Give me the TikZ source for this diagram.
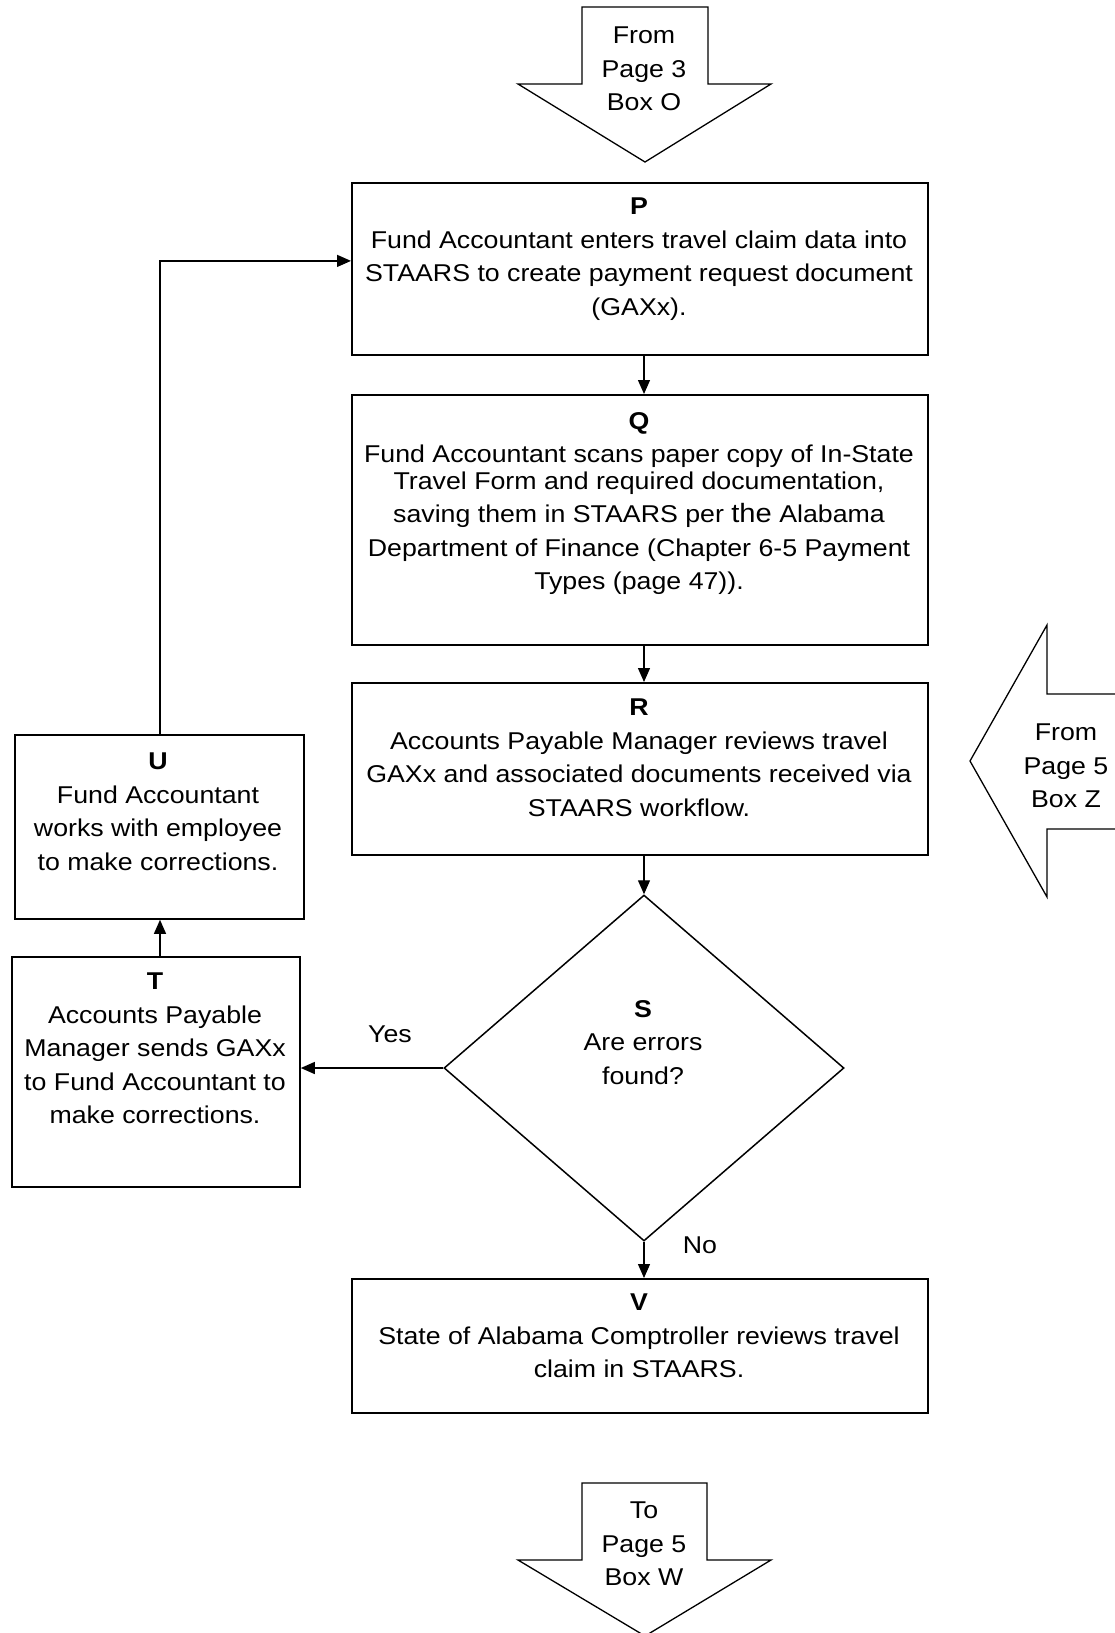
\documentclass[tikz,border=0pt]{standalone}
\usepackage{fontspec}
\setmainfont{Liberation Sans}[FakeStretch=1.1]
\usetikzlibrary{arrows.meta,shapes.geometric}
\begin{document}
\begin{tikzpicture}[x=1pt,y=-1pt,
  box/.style={draw,line width=1.8pt,anchor=north west,inner sep=0pt},
  txt/.style={align=center,inner sep=0pt,font=\fontsize{24.3}{33.5}\selectfont},
  arr/.style={line width=1.3pt,-{Triangle[length=14pt,width=12pt]}},
  line/.style={line width=1.3pt},
  blk/.style={draw,line width=1.3pt,line join=miter}]
\useasboundingbox (0,0) rectangle (1114,1633);
% x-coordinates of the main column and the left column
\coordinate (mx) at (644,0);
\coordinate (cx) at (160,0);

% top off-page arrow
\draw[blk] (582,7) -- (708,7) -- (708,84) -- (771,84) -- (645,162) -- (518,84) -- (582,84) -- cycle;
\node[txt] (topt) at (644,69) {From\\Page 3\\Box O};

% bottom off-page arrow
\draw[blk] (582,1483) -- (707,1483) -- (707,1560) -- (771,1560) -- (645,1636) -- (518,1560) -- (582,1560) -- cycle;
\node[txt] (bott) at (644,1544) {To\\Page 5\\Box W};

% right off-page arrow
\draw[blk] (1116,694) -- (1047,694) -- (1047,625) -- (970,761) -- (1047,897) -- (1047,829) -- (1116,829);
\node[txt] (rgtt) at (1066,766) {From\\Page 5\\Box Z};

% boxes
\node[box,minimum width=576pt,minimum height=172pt] (P) at (351,182) {};
\node[box,minimum width=576pt,minimum height=250pt] (Q) at (351,394) {};
\node[box,minimum width=576pt,minimum height=172pt] (R) at (351,682) {};
\node[box,minimum width=576pt,minimum height=134pt] (V) at (351,1278) {};
\node[box,minimum width=289pt,minimum height=184pt] (U) at (14,734) {};
\node[box,minimum width=288pt,minimum height=230pt] (T) at (11,956) {};
\node[draw,diamond,line width=1.5pt,inner sep=0pt,minimum width=400pt,minimum height=346pt] (S) at (644,1068) {};

% texts
\node[txt,anchor=north] (Pt) at (639,198) {\textbf{P}\\Fund Accountant enters travel claim data into\\STAARS to create payment request document\\(GAXx).};
\node[txt,anchor=north] (Qt) at (639,412) {\textbf{Q}\\Fund Accountant scans paper copy of In-State\\[-7pt]Travel Form and required documentation,\\saving them in STAARS per {\fontsize{26.5}{33.5}\selectfont the} Alabama\\Department of Finance (Chapter 6-5 Payment\\Types (page 47)).};
\node[txt,anchor=north] (Rt) at (639,699) {\textbf{R}\\Accounts Payable Manager reviews travel\\GAXx and associated documents received via\\STAARS workflow.};
\node[txt,anchor=north] (St) at (643,1000) {\textbf{S}\\Are errors\\found?};
\node[txt,anchor=north] (Vt) at (639,1294) {\textbf{V}\\State of Alabama Comptroller reviews travel\\claim in STAARS.};
\node[txt,anchor=north] (Ut) at (158,753) {\textbf{U}\\Fund Accountant\\works with employee\\to make corrections.};
\node[txt,anchor=north] (Tt) at (155,973) {\textbf{T}\\Accounts Payable\\Manager sends GAXx\\to Fund Accountant to\\make corrections.};

% labels
\node[txt] (yes) at (390,1034) {Yes};
\node[txt] (no) at (700,1245) {No};

% connectors
\draw[arr] (P.south -| mx) -- (Q.north -| mx);
\draw[arr] (Q.south -| mx) -- (R.north -| mx);
\draw[arr] (R.south -| mx) -- (S.north);
\draw[arr] (S.south) -- (V.north -| S.south);
\draw[arr] (S.west) -- (S.west -| T.east);
\draw[arr] (T.north -| cx) -- (U.south -| cx);
\draw[arr] (U.north -| cx) |- ([yshift=8pt]P.west);
\end{tikzpicture}
\end{document}
